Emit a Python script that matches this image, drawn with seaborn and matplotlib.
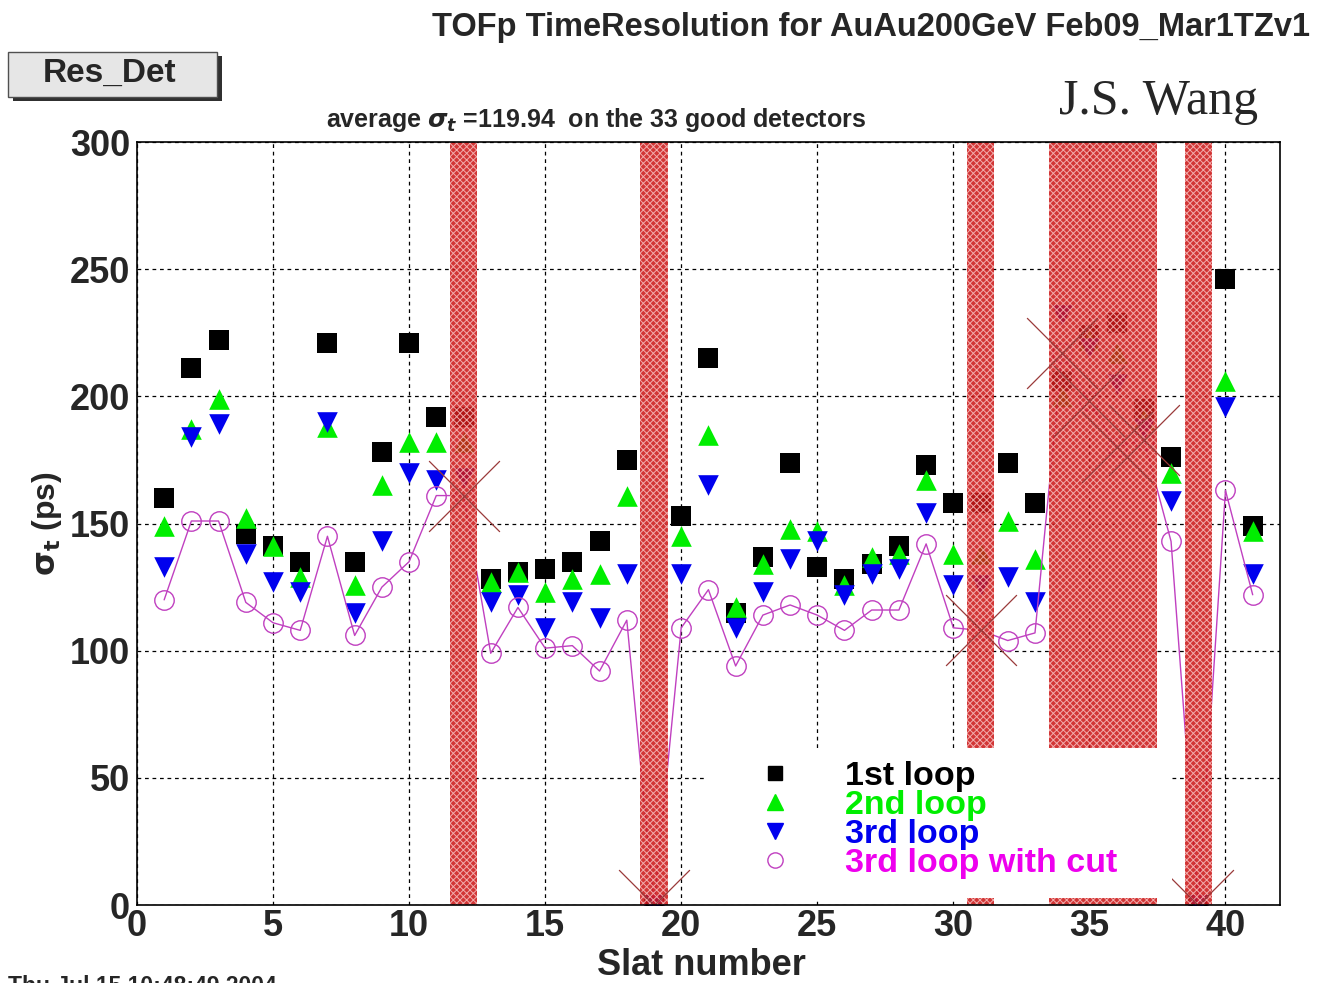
import numpy as np
import pandas as pd
import seaborn as sns
import matplotlib.pyplot as plt
from matplotlib.patches import Rectangle
from matplotlib.lines import Line2D
from matplotlib.ticker import MultipleLocator

# ----------------------------- DATI -----------------------------

slat = list(range(1, 42))

loop1 = [160, 211, 222, 146, 141, 135, 221, 135, 178, 221, 192, 192, 128, 131, 132, 135, 143,
         175, 0, 153, 215, 115, 137, 174, 133, 128, 134, 141, 173, 158, 158, 174, 158,
         206, 224, 229, 195, 176, 0, 246, 149]
loop2 = [149, 187, 199, 152, 141, 129, 188, 126, 165, 182, 182, 182, 127, 131, 123, 128, 130,
         161, 0, 145, 185, 117, 134, 148, 147, 126, 137, 138, 167, 138, 138, 151, 136,
         200, 222, 217, 191, 170, 0, 206, 147]
loop3 = [133, 184, 189, 138, 127, 123, 190, 115, 143, 170, 167, 168, 119, 122, 109, 119, 113,
         130, 0, 130, 165, 109, 123, 136, 143, 122, 130, 132, 154, 126, 126, 129, 119,
         232, 219, 205, 187, 159, 0, 196, 130]
loop3_cut = [120, 151, 151, 119, 111, 108, 145, 106, 125, 135, 161, 161, 99, 117, 101, 102, 92,
             112, 0, 109, 124, 94, 114, 118, 114, 108, 116, 116, 142, 109, 108, 104, 107,
             217, 198, 180, 183, 143, 0, 163, 122]

bad_slats = [12, 19, 31, 34, 35, 36, 37, 39]
bad_bands = [(11.5, 12.5), (18.5, 19.5), (30.5, 31.5), (33.5, 37.5), (38.5, 39.5)]

labels = ["1st loop", "2nd loop", "3rd loop", "3rd loop with cut"]
colors = ["#000000", "#00ee00", "#0000ee", "#ee00ee"]
circle_color = "#c040c0"

df = pd.DataFrame({"slat": slat, "loop1": loop1, "loop2": loop2,
                   "loop3": loop3, "loop3_cut": loop3_cut})
df_bad = df[df["slat"].isin(bad_slats)]

# ----------------------------- GRAFICO -----------------------------

sns.set_style("white")
plt.rcParams['font.family'] = ['Liberation Sans', 'DejaVu Sans']
plt.rcParams['font.weight'] = 'bold'
plt.rcParams['hatch.linewidth'] = 0.7

fig = plt.figure(figsize=(13.18, 9.83), dpi=100)
ax = fig.add_axes([0.1039, 0.0793, 0.8672, 0.7762])

sns.scatterplot(data=df, x="slat", y="loop1", marker="s", s=190, color=colors[0],
                linewidth=0, ax=ax, zorder=3)
sns.scatterplot(data=df, x="slat", y="loop2", marker="^", s=220, color=colors[1],
                linewidth=0, ax=ax, zorder=3)
sns.scatterplot(data=df, x="slat", y="loop3", marker="v", s=220, color=colors[2],
                linewidth=0, ax=ax, zorder=3)
sns.lineplot(data=df, x="slat", y="loop3_cut", color=circle_color, lw=1, marker="o",
             markersize=14, mfc="none", mec=circle_color, mew=1, ax=ax, zorder=3)

# fasce dei rivelatori scartati
for x0, x1 in bad_bands:
    ax.axvspan(x0, x1, facecolor="#cc1a1a", edgecolor="#f6bcbc", hatch="xxxxx",
               lw=0, alpha=0.88, zorder=4)

# croci sui rivelatori scartati
sns.scatterplot(data=df_bad, x="slat", y="loop3_cut", marker="x", s=2600,
                color="#9a3a3a", linewidth=0.9, ax=ax, zorder=5)

ax.set_xlim(0, 42)
ax.set_ylim(0, 300)
ax.xaxis.set_major_locator(MultipleLocator(5))
ax.xaxis.set_minor_locator(MultipleLocator(1))
ax.yaxis.set_major_locator(MultipleLocator(50))
ax.yaxis.set_minor_locator(MultipleLocator(10))
ax.tick_params(axis="x", which="major", direction="in", length=16, width=1, labelsize=26, pad=3)
ax.tick_params(axis="x", which="minor", direction="in", length=7, width=1)
ax.tick_params(axis="y", which="major", direction="in", length=22, width=1, labelsize=26, pad=5)
ax.tick_params(axis="y", which="minor", direction="in", length=12, width=1)
ax.grid(True, which="major", color="black", linestyle=(0, (3, 3)), lw=0.9, zorder=6)
ax.set_axisbelow(False)
for sp in ax.spines.values():
    sp.set_linewidth(1.2)
    sp.set_color("black")
    sp.set_zorder(10)

ax.set_xlabel("Slat number", fontsize=26, fontweight="bold", labelpad=3)
ax.xaxis.label.set_x(0.494)
ax.set_ylabel(r"$\mathbf{\sigma_t}$ (ps)", fontsize=23, fontweight="bold", labelpad=4)
ax.set_title(r"average $\sigma_t$ =119.94  on the 33 good detectors", fontsize=18,
             fontweight="bold", pad=11, x=0.4016)

# legenda su fondo bianco
ax.add_patch(Rectangle((0.4978, 0.0092), 0.4077, 0.1966, transform=ax.transAxes,
                       facecolor="white", edgecolor="none", zorder=8))
handles = [
    Line2D([], [], marker="s", color=colors[0], ls="", markersize=10),
    Line2D([], [], marker="^", color=colors[1], ls="", markersize=11),
    Line2D([], [], marker="v", color=colors[2], ls="", markersize=11),
    Line2D([], [], marker="o", mfc="none", mec=circle_color, ls="", markersize=11),
]
leg = ax.legend(handles, labels, loc="upper left", bbox_to_anchor=(0.5433, 0.189),
                frameon=False, labelcolor=colors, handlelength=1.0, handletextpad=1.55,
                labelspacing=-0.06, borderpad=0, borderaxespad=0,
                prop={"weight": "bold", "size": 24.5})
leg.set_zorder(9)

# testi della figura
fig.text(0.994, 0.972, "TOFp TimeResolution for AuAu200GeV Feb09_Mar1TZv1",
         ha="right", va="center", fontsize=23.5, fontweight="bold")
fig.text(0.9545, 0.896, "J.S. Wang", ha="right", va="center", fontsize=36,
         family="Liberation Serif", fontweight="normal")
fig.text(0.006, 0.008, "Thu Jul 15 10:48:49 2004", ha="left", va="top",
         fontsize=16.5, fontweight="bold")

# riquadro "Res_Det" con ombra
fig.patches.append(Rectangle((0.0098, 0.8972), 0.1586, 0.0458, transform=fig.transFigure,
                             facecolor="#303030", edgecolor="none", zorder=1))
fig.patches.append(Rectangle((0.006, 0.9013), 0.1586, 0.0458, transform=fig.transFigure,
                             facecolor="#e6e6e6", edgecolor="#505050", lw=1, zorder=2))
fig.text(0.0835, 0.9257, "Res_Det", ha="center", va="center", fontsize=24,
         fontweight="bold", zorder=3)

plt.savefig("out.png", dpi=100)
